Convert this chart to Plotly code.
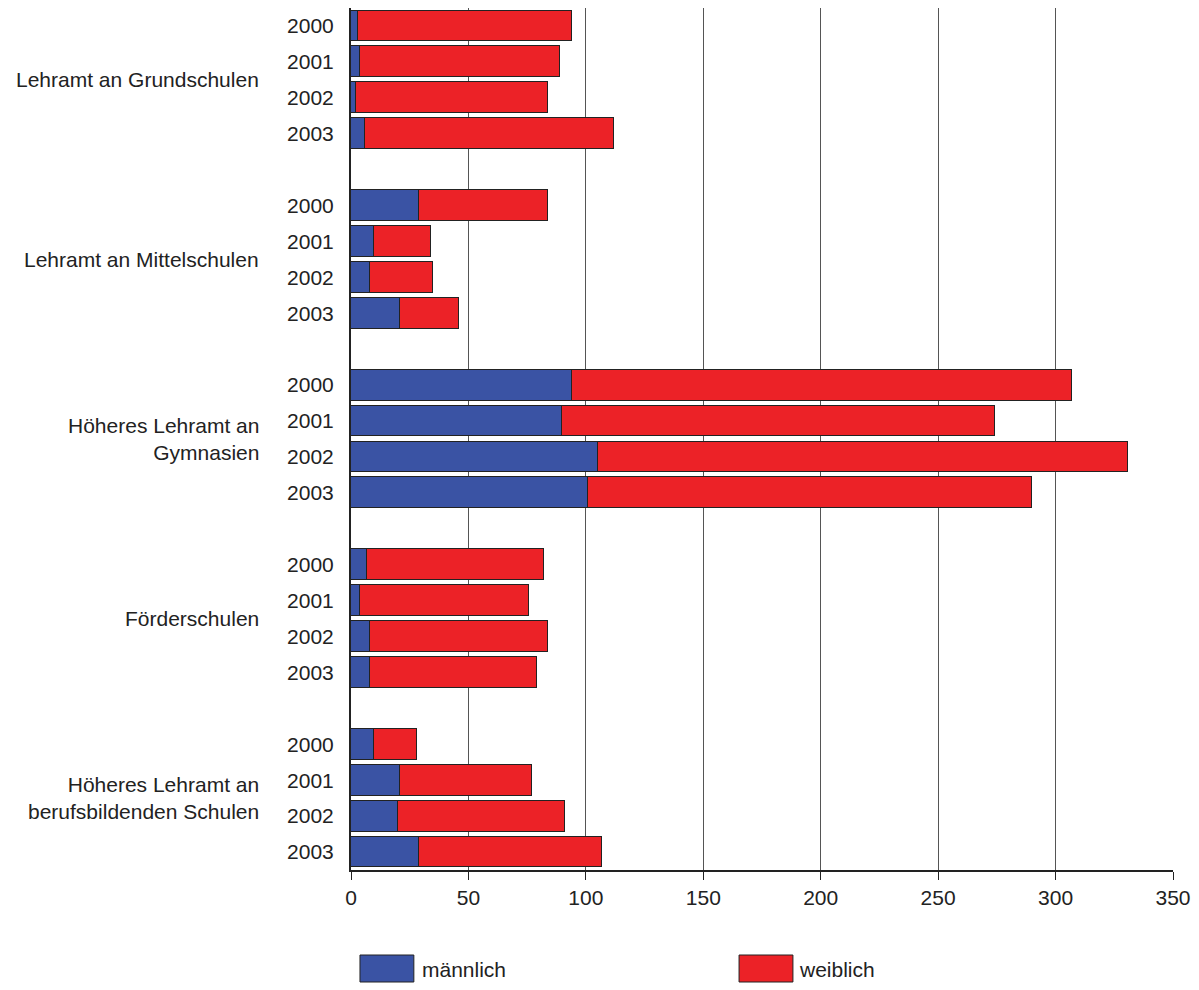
import plotly.graph_objects as go

groups = ["Lehramt an Grundschulen", "Lehramt an Mittelschulen",
          "Höheres Lehramt an<br>Gymnasien", "Förderschulen",
          "Höheres Lehramt an<br>berufsbildenden Schulen"]
years = ["2000", "2001", "2002", "2003"]

maennlich = [
    [3, 4, 2, 6],
    [29, 10, 8, 21],
    [94, 90, 105, 101],
    [7, 4, 8, 8],
    [10, 21, 20, 29],
]
weiblich = [
    [91, 85, 82, 106],
    [55, 24, 27, 25],
    [213, 184, 226, 189],
    [75, 72, 76, 71],
    [18, 56, 71, 78],
]
x_ticks = [0, 50, 100, 150, 200, 250, 300, 350]

BLUE = "#3A53A4"
RED = "#EC2227"
FONT = "Liberation Sans, Arial, sans-serif"
FS = 21
TXT = "#222222"

ypos, ylab, m_vals, w_vals = [], [], [], []
for gi in range(len(groups)):
    for yi, yr in enumerate(years):
        ypos.append(gi * 5 + yi)
        ylab.append(yr)
        m_vals.append(maennlich[gi][yi])
        w_vals.append(weiblich[gi][yi])

fig = go.Figure()
fig.add_trace(go.Bar(y=ypos, x=m_vals, orientation="h", name="männlich",
                     marker=dict(color=BLUE, line=dict(color="#222222", width=1)),
                     width=0.86, showlegend=False))
fig.add_trace(go.Bar(y=ypos, x=w_vals, orientation="h", name="weiblich",
                     marker=dict(color=RED, line=dict(color="#222222", width=1)),
                     width=0.86, showlegend=False))

annotations = []
for gi, g in enumerate(groups):
    annotations.append(dict(x=-0.110, xref="paper", xanchor="right",
                            y=gi * 5 + 1.5, yref="y", yanchor="middle",
                            text=g, showarrow=False, align="right",
                            font=dict(family=FONT, size=FS, color=TXT)))

# legend (drawn manually for large swatches)
shapes = [
    dict(type="rect", xref="paper", yref="paper", x0=(360-351)/824, x1=(414-351)/824,
         y0=-(982-870)/862, y1=-(955-870)/862, fillcolor=BLUE, line=dict(color="#222222", width=1)),
    dict(type="rect", xref="paper", yref="paper", x0=(740-351)/824, x1=(794-351)/824,
         y0=-(982-870)/862, y1=-(955-870)/862, fillcolor=RED, line=dict(color="#222222", width=1)),
]
annotations.append(dict(x=(420-351)/824, xref="paper", xanchor="left",
                        y=-(969-870)/862, yref="paper", yanchor="middle",
                        text="männlich", showarrow=False,
                        font=dict(family=FONT, size=FS, color=TXT)))
annotations.append(dict(x=(798-351)/824, xref="paper", xanchor="left",
                        y=-(969-870)/862, yref="paper", yanchor="middle",
                        text="weiblich", showarrow=False,
                        font=dict(family=FONT, size=FS, color=TXT)))

fig.update_layout(
    barmode="stack",
    width=1199, height=990,
    margin=dict(l=351, r=24, t=8, b=120),
    plot_bgcolor="white", paper_bgcolor="white",
    font=dict(family=FONT, size=FS, color=TXT),
    bargap=0,
    annotations=annotations,
    shapes=shapes,
    xaxis=dict(range=[0, 350], tickvals=x_ticks, ticktext=[str(v) for v in x_ticks],
               showgrid=True, gridcolor="#555555", gridwidth=1,
               showline=True, linecolor="#222222", linewidth=2,
               ticks="outside", ticklen=8, tickcolor="#222222", tickwidth=1,
               zeroline=False, fixedrange=True,
               tickfont=dict(family=FONT, size=FS, color=TXT)),
    yaxis=dict(range=[23.5, -0.5], tickvals=ypos, ticktext=ylab,
               showgrid=False, showline=True, linecolor="#222222", linewidth=2,
               ticks="", ticklabelstandoff=11, zeroline=False,
               tickfont=dict(family=FONT, size=FS, color=TXT)),
)

fig.write_html("out.html")
